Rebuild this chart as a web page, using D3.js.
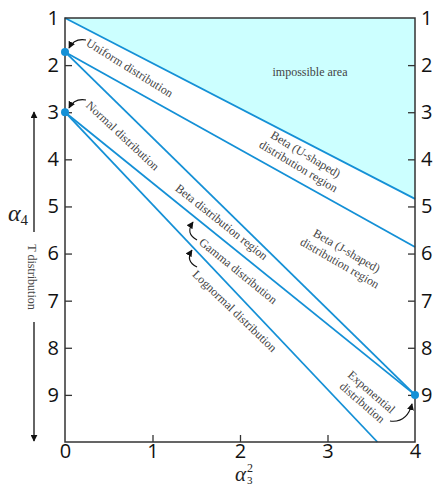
<!DOCTYPE html>
<html>
<head>
<meta charset="utf-8">
<script src="https://cdn.jsdelivr.net/npm/d3@7"></script>
<style>
  body { margin: 0; background: #fff; }
  .tick text { font-family: "Open Sans", "Noto Sans", sans-serif; font-size: 20px; fill: #111; }
  .ann { font-family: "Liberation Serif", "Times New Roman", serif; font-size: 12px; fill: #444; }
</style>
</head>
<body>
<div id="chart"></div>
<script>
// squared skewness (x) vs kurtosis (y)
var xTicks = [0, 1, 2, 3, 4];
var yTicks = [1, 2, 3, 4, 5, 6, 7, 8, 9];

// boundary lines, [alpha3^2, alpha4]
var impossibleLine = [[0, 1], [4, 4.84]];
var uShapedLine = [[0, 1.72], [4, 5.86]];
var betaLine = [[0, 1.72], [4, 9]];
var gammaLine = [[0, 3], [4, 9]];
var lognormalLine = [[0, 3], [3.57, 10]];

var pointNames = ["Uniform", "Normal", "Exponential"];
var pointX = [0, 0, 4];
var pointY = [1.72, 3, 9];

var margin = {top: 18, right: 20, bottom: 45, left: 65},
    width = 415 - margin.left,
    height = 442 - margin.top;

var svg = d3.select("#chart")
  .append("svg")
    .attr("width", 435)
    .attr("height", 487)
  .append("g")
    .attr("transform", "translate(" + margin.left + "," + margin.top + ")");

var x = d3.scaleLinear().domain([0, 4]).range([0, width]);
var y = d3.scaleLinear().domain([1, 10]).range([0, height]);

var blue = "#1490d6";
var line = d3.line().x(d => x(d[0])).y(d => y(d[1]));

// impossible area (above the lower-bound line)
svg.append("path")
  .attr("d", line([[0, 1], [4, 1], impossibleLine[1], impossibleLine[0]]) + "Z")
  .attr("fill", "#ccffff");

// arrow marker
var defs = d3.select("svg").append("defs");
defs.append("marker")
  .attr("id", "head")
  .attr("viewBox", "0 0 10 10")
  .attr("refX", 9).attr("refY", 5)
  .attr("markerWidth", 7).attr("markerHeight", 7)
  .attr("markerUnits", "userSpaceOnUse")
  .attr("orient", "auto")
  .append("path").attr("d", "M0,0L10,5L0,10Z").attr("fill", "#111");

[impossibleLine, uShapedLine, betaLine, gammaLine, lognormalLine].forEach(function(l) {
  svg.append("path")
    .attr("d", line(l))
    .attr("fill", "none")
    .attr("stroke", blue)
    .attr("stroke-width", 1.8);
});

// axes
var axisColor = "#333";
function styleAxis(g) {
  g.select(".domain").remove();
  g.selectAll(".tick line").attr("stroke", axisColor).attr("stroke-width", 1.3);
}
svg.append("g")
  .call(d3.axisLeft(y).tickValues(yTicks).tickSizeInner(-7).tickSizeOuter(0).tickPadding(6))
  .call(styleAxis)
  .call(g => g.selectAll(".tick").filter(d => d === 1).select("line").remove());
svg.append("g")
  .attr("transform", "translate(" + width + ",0)")
  .call(d3.axisRight(y).tickValues(yTicks).tickSizeInner(-7).tickSizeOuter(0).tickPadding(6))
  .call(styleAxis)
  .call(g => g.selectAll(".tick").filter(d => d === 1).select("line").remove());
svg.append("g")
  .attr("transform", "translate(0," + height + ")")
  .call(d3.axisBottom(x).tickValues(xTicks).tickFormat(d3.format("d"))
    .tickSizeInner(-7).tickSizeOuter(0).tickPadding(2))
  .call(styleAxis)
  .call(g => g.selectAll(".tick").filter(d => d === 0 || d === 4).select("line").remove());

svg.append("rect")
  .attr("width", width).attr("height", height)
  .attr("fill", "none").attr("stroke", axisColor).attr("stroke-width", 1.5);

// special points
svg.selectAll(".pt")
  .data(pointNames)
  .enter()
  .append("circle")
  .attr("cx", (d, i) => x(pointX[i]))
  .attr("cy", (d, i) => y(pointY[i]))
  .attr("r", 4)
  .attr("fill", blue);

// region / distribution labels: [lines, x, y, angle]
var labels = [
  [["impossible area"], 2.8, 2.15, 0],
  [["Uniform distribution"], 0.74, 2.06, 32],
  [["Normal distribution"], 0.66, 3.5, 43],
  [["Beta (U-shaped)", "distribution region"], 2.71, 4.02, 31],
  [["Beta (J-shaped)", "distribution region"], 3.18, 6.07, 30],
  [["Beta distribution region"], 1.79, 5.33, 38.5],
  [["Gamma distribution"], 1.98, 6.37, 39],
  [["Lognormal distribution"], 1.94, 7.22, 44],
  [["Exponential", "distribution"], 3.45, 9.05, 41]
];
labels.forEach(function(l) {
  var t = svg.append("text")
    .attr("class", "ann")
    .attr("text-anchor", "middle")
    .attr("transform", "translate(" + x(l[1]) + "," + y(l[2]) + ") rotate(" + l[3] + ")");
  var n = l[0].length;
  l[0].forEach(function(s, i) {
    t.append("tspan")
      .attr("x", 0)
      .attr("y", (i - (n - 1) / 2) * 14 + 4)
      .text(s);
  });
});

// little curved pointers: tail, control, tip
var pointers = [
  [[0.24, 1.467], [0.103, 1.425], [0.046, 1.637]],
  [[0.24, 2.74], [0.103, 2.70], [0.046, 2.91]],
  [[1.509, 5.71], [1.371, 5.585], [1.463, 5.33]],
  [[1.509, 6.285], [1.371, 6.158], [1.451, 5.925]],
  [[3.714, 9.554], [3.909, 9.597], [3.966, 9.19]]
];
pointers.forEach(function(p) {
  svg.append("path")
    .attr("d", "M" + x(p[0][0]) + "," + y(p[0][1]) +
               "Q" + x(p[1][0]) + "," + y(p[1][1]) + " " + x(p[2][0]) + "," + y(p[2][1]))
    .attr("fill", "none")
    .attr("stroke", "#111")
    .attr("stroke-width", 1.1)
    .attr("marker-end", "url(#head)");
});

// axis titles
var root = d3.select("svg");
var yt = root.append("text")
  .attr("x", 8).attr("y", 221)
  .style("font-family", "'Liberation Serif', serif")
  .style("font-style", "italic")
  .style("font-size", "24px")
  .attr("fill", "#222");
yt.append("tspan").text("α");
yt.append("tspan").attr("dy", 4).style("font-size", "15px").style("font-style", "normal").text("4");

var xt = root.append("text")
  .attr("x", 235).attr("y", 481)
  .style("font-family", "'Liberation Serif', serif")
  .style("font-size", "21px")
  .attr("fill", "#222");
xt.append("tspan").style("font-style", "italic").text("α");
xt.append("tspan").attr("dx", 1).attr("dy", -9).style("font-size", "12px").text("2");
xt.append("tspan").attr("dx", -6).attr("dy", 12).style("font-size", "11px").text("3");

// T distribution vertical double arrow
root.append("path")
  .attr("d", "M34,232L34,112").attr("stroke", "#111").attr("stroke-width", 1.3)
  .attr("marker-end", "url(#head)");
root.append("path")
  .attr("d", "M34,322L34,441").attr("stroke", "#111").attr("stroke-width", 1.3)
  .attr("marker-end", "url(#head)");
root.append("text")
  .attr("class", "ann")
  .attr("text-anchor", "middle")
  .attr("transform", "translate(28,277) rotate(90)")
  .text("T distribution");
</script>
</body>
</html>
